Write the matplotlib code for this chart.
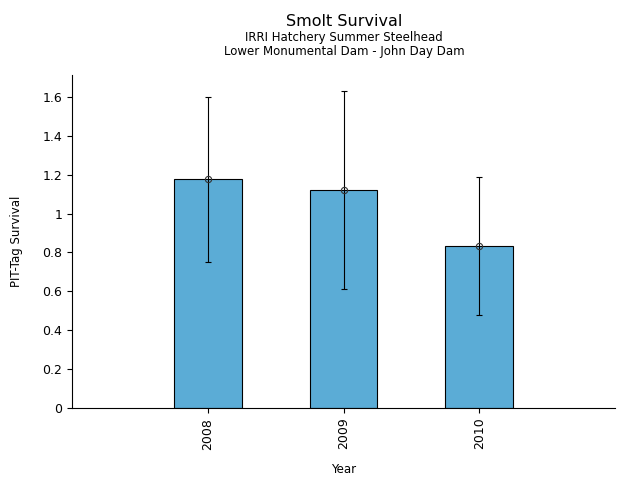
import matplotlib
matplotlib.use("Agg")
import matplotlib.pyplot as plt
import numpy as np
from matplotlib.ticker import FuncFormatter

years = ["2008", "2009", "2010"]
survival = [1.176, 1.121, 0.832]
lower = [0.75, 0.61, 0.477]
upper = [1.60, 1.631, 1.19]

fig = plt.figure(figsize=(6.4, 4.8), dpi=100)
ax = fig.add_axes([72/640, 1-408/480, (615-72)/640, (408-75)/480])
x = np.arange(len(years))
ax.bar(x, survival, width=0.5, color="#5bacd6", edgecolor="black", linewidth=0.8, zorder=2)
yerr = [np.array(survival) - np.array(lower), np.array(upper) - np.array(survival)]
ax.errorbar(x, survival, yerr=yerr, fmt="o", mfc="none", mec="#333333", ms=4.5, mew=0.8,
            ecolor="black", elinewidth=0.8, capsize=2.3, capthick=0.8, zorder=3)
ax.set_xlim(-1, 3)
ax.set_ylim(0, 1.713)
ax.set_xticks(x)
ax.set_xticklabels(years, rotation=90, fontsize=9)
ax.set_yticks(np.arange(0, 1.61, 0.2))
ax.yaxis.set_major_formatter(FuncFormatter(lambda v, p: ("%.1f" % v).rstrip("0").rstrip(".") if v else "0"))
ax.tick_params(axis="y", labelsize=9)
ax.spines["top"].set_visible(False)
ax.spines["right"].set_visible(False)
ax.set_xlabel("Year", fontsize=8.5, labelpad=10)
ax.set_ylabel("PIT-Tag Survival", fontsize=8.5, labelpad=14)
fig.text(344/640, 1-22/480, "Smolt Survival", ha="center", va="center", fontsize=11.5)
fig.text(344/640, 1-38/480, "IRRI Hatchery Summer Steelhead", ha="center", va="center", fontsize=8.5)
fig.text(344/640, 1-52/480, "Lower Monumental Dam - John Day Dam", ha="center", va="center", fontsize=8.5)
fig.savefig("out.png", dpi=100)
